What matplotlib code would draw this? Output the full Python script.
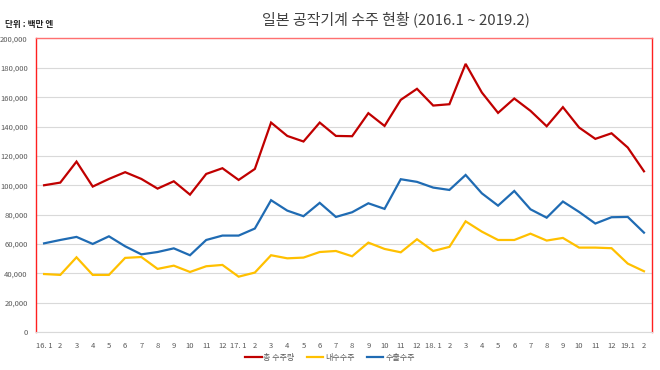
import matplotlib
matplotlib.use("Agg")
import matplotlib.pyplot as plt
from matplotlib.ticker import FuncFormatter

plt.rcParams['font.family'] = ['Noto Sans CJK KR', 'DejaVu Sans']

# months 2016.1 ~ 2019.2
month_labels = ["16. 1", "2", "3", "4", "5", "6", "7", "8", "9", "10", "11", "12",
                "17. 1", "2", "3", "4", "5", "6", "7", "8", "9", "10", "11", "12",
                "18. 1", "2", "3", "4", "5", "6", "7", "8", "9", "10", "11", "12",
                "19.1", "2"]

total_orders = [100000, 101800, 116100, 99100, 104300, 108900, 104300, 97700, 102700, 93600, 107700, 111600,
                103600, 111100, 142700, 133600, 129800, 142700, 133600, 133400, 149100, 140400, 158200, 165700,
                154300, 155200, 182700, 163200, 149300, 159100, 150700, 140200, 153200, 139300, 131600, 135400,
                125700, 109500]

domestic_orders = [39500, 38900, 50900, 38900, 38900, 50500, 51100, 43000, 45200, 40900, 44800, 45700,
                   37700, 40500, 52300, 50200, 50700, 54500, 55200, 51600, 60900, 56600, 54300, 63200,
                   55200, 58000, 75400, 68400, 62700, 62700, 67000, 62300, 64100, 57500, 57500, 57100,
                   46600, 41400]

export_orders = [60400, 62700, 64800, 60000, 65200, 58400, 52900, 54500, 57000, 52300, 62700, 65700,
                 65700, 70500, 89800, 82700, 78900, 88000, 78400, 81600, 87700, 83900, 104100, 102300,
                 98400, 96800, 107000, 94500, 86100, 96100, 83600, 77900, 88900, 81800, 73900, 78200,
                 78400, 67700]

series_names = ["총 수주량", "내수수주", "수출수주"]
series_colors = ["#C00000", "#FFC000", "#1F6BB3"]

fig = plt.figure(figsize=(6.6, 3.7), dpi=100)
fig.patch.set_facecolor('white')
ax = fig.add_axes([0.0545, 0.1027, 0.9335, 0.7933])

x = list(range(len(month_labels)))
for vals, name, col in zip([total_orders, domestic_orders, export_orders], series_names, series_colors):
    ax.plot(x, vals, color=col, linewidth=1.6, label=name, solid_joinstyle='miter')

ax.set_xlim(-0.5, len(month_labels) - 0.5)
ax.set_ylim(0, 200000)
ax.set_yticks(range(0, 200001, 20000))
ax.yaxis.set_major_formatter(FuncFormatter(lambda v, p: f"{int(v):,}"))
ax.set_xticks(x)
ax.set_xticklabels(month_labels)
ax.tick_params(axis='both', length=0, labelsize=5.5, colors='#595959')
ax.tick_params(axis='y', pad=6)
ax.tick_params(axis='x', pad=7)

ax.grid(axis='y', color='#D9D9D9', linewidth=0.8)
ax.set_axisbelow(True)

for side in ['left', 'right']:
    ax.spines[side].set_color('#FF2020')
    ax.spines[side].set_linewidth(1.0)
ax.spines['top'].set_color('#FF7070')
ax.spines['top'].set_linewidth(1.0)
ax.spines['bottom'].set_color('#D9D9D9')
ax.spines['bottom'].set_linewidth(0.8)

fig.text(0.6, 0.947, "일본 공작기계 수주 현황 (2016.1 ~ 2019.2)",
         ha='center', va='center', fontsize=10.8, color='#404040')
fig.text(0.008, 0.935, "단위 : 백만 엔", ha='left', va='center',
         fontsize=6.2, fontweight='bold', color='#222222')

fig.legend(loc='center', bbox_to_anchor=(0.5, 0.033), ncol=3, frameon=False,
           fontsize=5.8, handlelength=2.0, handletextpad=0.2, columnspacing=1.6,
           labelcolor='#595959')

fig.savefig("out.png", dpi=100, facecolor='white')
